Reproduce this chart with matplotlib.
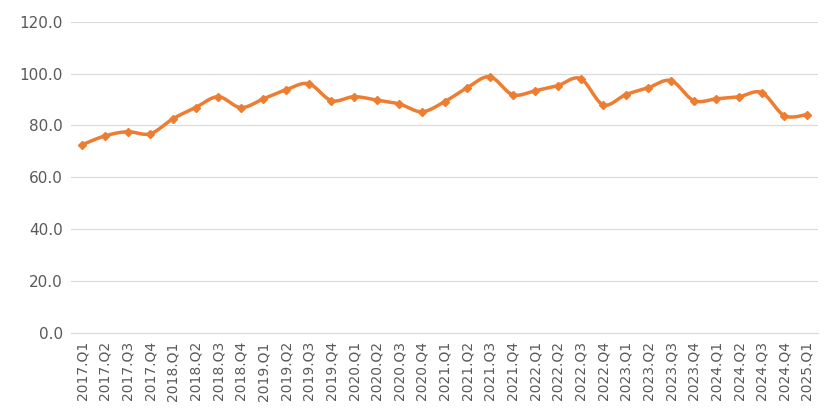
import numpy as np
import matplotlib
matplotlib.use("Agg")
import matplotlib.pyplot as plt

quarters = ["2017.Q1","2017.Q2","2017.Q3","2017.Q4",
            "2018.Q1","2018.Q2","2018.Q3","2018.Q4",
            "2019.Q1","2019.Q2","2019.Q3","2019.Q4",
            "2020.Q1","2020.Q2","2020.Q3","2020.Q4",
            "2021.Q1","2021.Q2","2021.Q3","2021.Q4",
            "2022.Q1","2022.Q2","2022.Q3","2022.Q4",
            "2023.Q1","2023.Q2","2023.Q3","2023.Q4",
            "2024.Q1","2024.Q2","2024.Q3","2024.Q4",
            "2025.Q1"]
values = [72.6, 76.0, 77.6, 76.8,
          82.6, 86.9, 91.1, 86.9,
          90.3, 93.8, 96.1, 89.6,
          91.1, 89.8, 88.3, 85.3,
          89.2, 94.6, 98.8, 91.9,
          93.4, 95.4, 98.1, 88.0,
          91.9, 94.6, 97.3, 89.6,
          90.3, 91.1, 92.7, 83.8,
          84.2]

color = "#ED7D31"

# smoothed line like Excel (Catmull-Rom between points)
def smooth(x, y, n=20):
    x = np.asarray(x, float); y = np.asarray(y, float)
    px = np.concatenate(([x[0]], x, [x[-1]]))
    py = np.concatenate(([y[0]], y, [y[-1]]))
    xs, ys = [], []
    t = np.linspace(0, 1, n, endpoint=False)
    for i in range(1, len(px) - 2):
        for p, out in ((px, xs), (py, ys)):
            p0, p1, p2, p3 = p[i-1], p[i], p[i+1], p[i+2]
            out.extend(0.5 * (2*p1 + (-p0 + p2)*t + (2*p0 - 5*p1 + 4*p2 - p3)*t**2
                              + (-p0 + 3*p1 - 3*p2 + p3)*t**3))
    xs.append(x[-1]); ys.append(y[-1])
    return xs, ys

x = np.arange(len(quarters))
fig = plt.figure(figsize=(8.35, 4.11), dpi=100)
ax = fig.add_axes([0.085, 0.19, 0.895, 0.757])
sx, sy = smooth(x, values)
ax.plot(sx, sy, color=color, lw=2.5, zorder=3)
ax.plot(x, values, "D", color=color, ms=4, zorder=4)

ax.set_ylim(0, 120)
ax.set_yticks(np.arange(0, 121, 20))
ax.set_yticklabels(["%.1f" % v for v in np.arange(0, 121, 20)], color="#595959", fontsize=11)
ax.set_xlim(-0.5, len(quarters) - 0.5)
ax.set_xticks(x)
ax.set_xticklabels(quarters, rotation=90, color="#595959", fontsize=10)
ax.grid(axis="y", color="#D9D9D9", lw=0.8)
ax.set_axisbelow(True)
for s in ["top", "right", "left"]:
    ax.spines[s].set_visible(False)
ax.spines["bottom"].set_color("#D9D9D9")
ax.tick_params(length=0, pad=6)

fig.savefig("out.png", dpi=100)
